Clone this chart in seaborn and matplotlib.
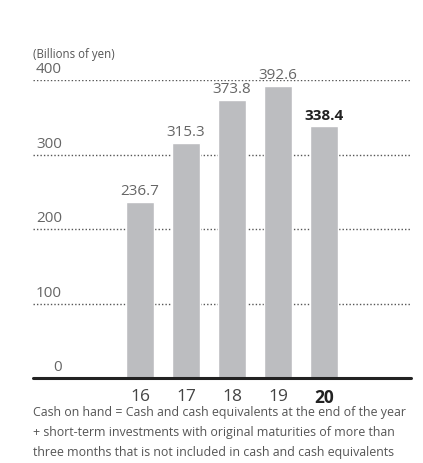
import matplotlib
matplotlib.use("Agg")
import matplotlib.pyplot as plt
import matplotlib.transforms as mtransforms
import seaborn as sns
import pandas as pd

years = ["16", "17", "18", "19", "20"]
cash_on_hand = [236.7, 315.3, 373.8, 392.6, 338.4]
y_ticks = [0, 100, 200, 300, 400]
unit_label = "(Billions of yen)"
footnote = ("Cash on hand = Cash and cash equivalents at the end of the year\n"
            "+ short-term investments with original maturities of more than\n"
            "three months that is not included in cash and cash equivalents")

sns.set_style("white")
plt.rcParams["font.family"] = ["Open Sans", "DejaVu Sans"]

df = pd.DataFrame({"year": years, "value": cash_on_hand})

fig = plt.figure(figsize=(4.23, 4.63), dpi=100)
ax = fig.add_axes([33 / 423, 1 - 378 / 463, 378 / 423, 298 / 463])

sns.barplot(data=df, x="year", y="value", order=years, color="#bcbdc0",
            saturation=1, width=0.6, ax=ax, zorder=3)

ax.set_ylim(0, 400)
ax.set_xlim(-2.33, 5.89)

# dotted grid lines
for t in y_ticks[1:]:
    ax.axhline(t, color="#555555", linestyle=(0, (1, 1.5)), linewidth=1.0, zorder=1)
ax.axhline(0, color="#222222", linewidth=2.2, zorder=4, clip_on=False)

for s in ax.spines.values():
    s.set_visible(False)
ax.set_yticks([])
ax.set_xlabel("")
ax.set_ylabel("")

# y labels sit above the grid lines
trans = mtransforms.blended_transform_factory(ax.transAxes, ax.transData)
for t in y_ticks:
    ax.text(0.077, t + 4, str(t), transform=trans, ha="right", va="bottom",
            fontsize=11, color="#666666")

ax.text(0.0, 1.065, unit_label, transform=ax.transAxes, ha="left", va="bottom",
        fontsize=8.3, color="#555555")

# value labels
for i, v in enumerate(cash_on_hand):
    last = i == len(years) - 1
    ax.text(i, v + 4, f"{v:.1f}", ha="center", va="bottom",
            fontsize=11, color="#222222" if last else "#666666",
            fontweight="bold" if last else "normal")

ax.set_xticks(range(len(years)))
ax.set_xticklabels(years, fontsize=12.5, color="#444444")
ax.tick_params(axis="x", length=0, pad=8)
ax.get_xticklabels()[-1].set_fontweight("bold")
ax.get_xticklabels()[-1].set_color("#222222")

fig.text(33 / 423, 1 - 406 / 463, footnote, ha="left", va="top",
         fontsize=8.9, color="#555555", linespacing=1.7)

fig.savefig("out.png", dpi=100)
